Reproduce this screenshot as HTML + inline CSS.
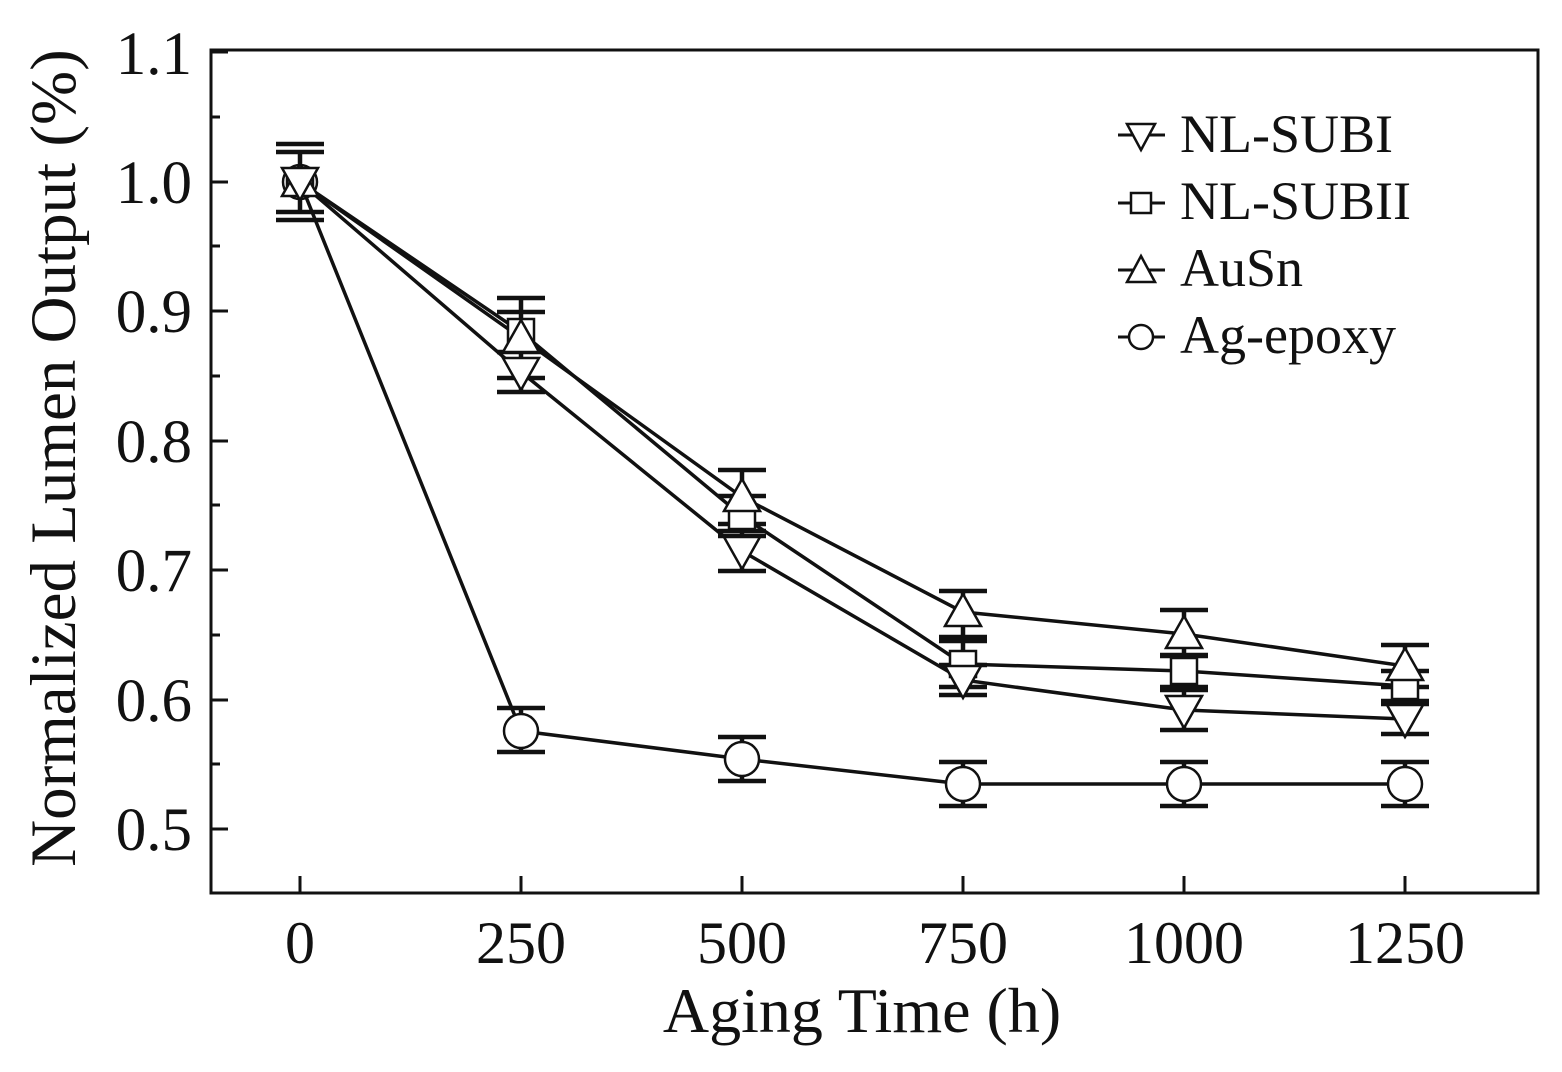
<!DOCTYPE html>
<html><head><style>body{margin:0;background:#fff}</style></head><body>
<svg width="1562" height="1067" xmlns="http://www.w3.org/2000/svg" font-family="Liberation Serif, serif" fill="none" stroke="#111">
<rect x="211" y="50" width="1327" height="843" stroke-width="3"/>
<g stroke-width="3">
<path d="M211 182h17M211 311h17M211 441h17M211 570h17M211 700h17M211 829h17M211 52h17"/>
<path d="M211 117h9M211 246h9M211 376h9M211 505h9M211 635h9M211 764h9"/>
<path d="M300 893v-17M521 893v-17M742 893v-17M963 893v-17M1184 893v-17M1405 893v-17"/>
</g>
<g fill="#111" stroke="none" font-size="61" text-anchor="end">
<text x="192" y="74">1.1</text><text x="192" y="203">1.0</text><text x="192" y="332">0.9</text><text x="192" y="462">0.8</text><text x="192" y="591">0.7</text><text x="192" y="721">0.6</text><text x="192" y="850">0.5</text>
</g>
<g fill="#111" stroke="none" font-size="60" text-anchor="middle">
<text x="300" y="963">0</text><text x="521" y="963">250</text><text x="742" y="963">500</text><text x="963" y="963">750</text><text x="1184" y="963">1000</text><text x="1405" y="963">1250</text>
<text x="862" y="1032" font-size="64">Aging Time (h)</text>
<text transform="translate(75,458) rotate(-90)" font-size="65">Normalized Lumen Output (%)</text>
</g>
<g stroke-width="3.5">
<polyline points="300,182 521,372 742,551 963,680 1184,710 1405,719"/>
<polyline points="300,182 521,332 742,516 963,664 1184,671 1405,686"/>
<polyline points="300,182 521,338 742,497 963,612 1184,634 1405,666"/>
<polyline points="300,182 521,731 742,759 963,784 1184,784 1405,784"/>
</g>
<g stroke-width="4.5">
<path d="M276 152h48M276 212h48M300 152v60M276 144h48M276 220h48"/>
<path d="M497 392h48M497 352h48M521 352v40M497 312h48M497 352h48M521 312v40M497 298h48M497 378h48M521 298v80"/>
<path d="M718 531h48M718 571h48M742 531v40M718 496h48M718 536h48M742 496v40M718 470h48M718 524h48M742 470v54"/>
<path d="M939 665h48M939 695h48M963 665v30M939 641h48M939 687h48M963 641v46M939 591h48M939 637h48M963 591v46"/>
<path d="M1160 690h48M1160 730h48M1184 690v40M1160 655h48M1160 687h48M1184 655v32M1160 610h48M1160 656h48M1184 610v46"/>
<path d="M1381 704h48M1381 734h48M1405 704v30M1381 671h48M1381 701h48M1405 671v30M1381 645h48M1381 687h48M1405 645v42"/>
<path d="M497 708h48M497 752h48M521 708v44M718 737h48M718 781h48M742 737v44M939 762h48M939 806h48M963 762v44M1160 762h48M1160 806h48M1184 762v44M1381 762h48M1381 806h48M1405 762v44"/>
</g>
<g fill="#fff" stroke-width="2.5">
<circle cx="300" cy="182" r="17"/><circle cx="521" cy="731" r="17"/><circle cx="742" cy="759" r="17"/><circle cx="963" cy="784" r="17"/><circle cx="1184" cy="784" r="17"/><circle cx="1405" cy="784" r="17"/>
<rect x="287" y="169" width="26" height="26"/><rect x="508" y="319" width="26" height="26"/><rect x="729" y="503" width="26" height="26"/><rect x="950" y="651" width="26" height="26"/><rect x="1171" y="658" width="26" height="26"/><rect x="1392" y="673" width="26" height="26"/>
<path d="M300 164l18 32h-36zM521 320l18 32h-36zM742 479l18 32h-36zM963 594l18 32h-36zM1184 616l18 32h-36zM1405 648l18 32h-36z"/>
<path d="M300 200l18-32h-36zM521 390l18-32h-36zM742 569l18-32h-36zM963 698l18-32h-36zM1184 728l18-32h-36zM1405 737l18-32h-36z"/>
</g>
<g stroke-width="3">
<path d="M1118 135h47M1118 203h47M1118 270h47M1118 337h47"/>
</g>
<g fill="#fff" stroke-width="2.5">
<path d="M1141 150l14-26h-28z"/>
<rect x="1131" y="193" width="20" height="20"/>
<path d="M1141 256l14 26h-28z"/>
<circle cx="1141" cy="337" r="12"/>
</g>
<g fill="#111" stroke="none" font-size="54">
<text x="1180" y="152">NL-SUBI</text><text x="1180" y="219">NL-SUBII</text><text x="1180" y="286">AuSn</text><text x="1180" y="353">Ag-epoxy</text>
</g>
</svg>
</body></html>
